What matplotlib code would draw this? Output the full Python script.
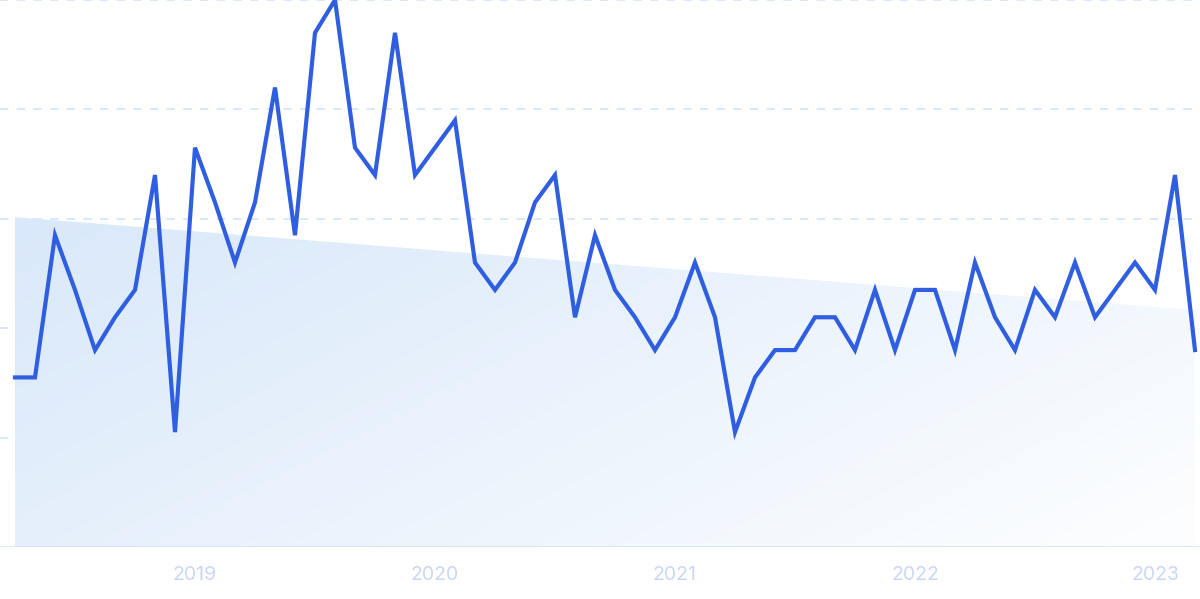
import numpy as np
import matplotlib.pyplot as plt
from matplotlib.colors import LinearSegmentedColormap

# monthly values, Apr 2018 .. Mar 2023
values = [31, 31, 57, 47, 36, 42, 47, 68, 21, 73,
          63, 52, 63, 84, 57, 94, 100, 73, 68, 94,
          68, 73, 78, 52, 47, 52, 63, 68, 42, 57,
          47, 42, 36, 42, 52, 42, 21, 31, 36, 36,
          42, 42, 36, 47, 36, 47, 47, 36, 52, 42,
          36, 47, 42, 52, 42, 47, 52, 47, 68, 36]
year_labels = ["2019", "2020", "2021", "2022", "2023"]
year_idx = [9, 21, 33, 45, 57]
trend_start, trend_end = 60.3, 43.3

x = np.arange(len(values))
trend = np.linspace(trend_start, trend_end, len(values))

fig = plt.figure(figsize=(12, 5.99), dpi=100)
ax = fig.add_axes([0, 52 / 599, 1, 547 / 599])
ax.set_xlim(-0.75, len(values) - 0.75)
ax.set_ylim(0, 100)

# gradient fill under the trend line (blue on the left -> white bottom-right)
cmap = LinearSegmentedColormap.from_list("fade", ["#d9e8fa", "#fdfeff"])
gx, gy = np.meshgrid(np.linspace(0, 1, 200), np.linspace(0, 1, 200))
grad = 0.65 * gx + 0.35 * gy
poly = ax.fill_between(x, 0, trend, color="none", lw=0)
img = ax.imshow(grad, cmap=cmap, extent=[x[0], x[-1], 0, trend_start], origin="upper",
                aspect="auto", zorder=1)
img.set_clip_path(poly.get_paths()[0], transform=ax.transData)

for v in [20, 40, 60, 80, 100]:
    ax.axhline(v, color="#d3e4fb", lw=1.2, ls=(0, (5, 5)), zorder=0)
ax.axhline(0, color="#d0e2fa", lw=1.8, zorder=2)

ax.plot(x, values, color="#2f5fe0", lw=3, solid_joinstyle="miter", zorder=3, clip_on=False)

ax.set_xticks(year_idx)
ax.set_xticklabels(year_labels, fontsize=14, color="#cbd7f5", family="Inter")
ax.tick_params(axis="x", length=0, pad=14)
ax.set_yticks([])
for s in ax.spines.values():
    s.set_visible(False)
ax.set_facecolor("white")

fig.savefig("out.png", dpi=100, facecolor="white")
